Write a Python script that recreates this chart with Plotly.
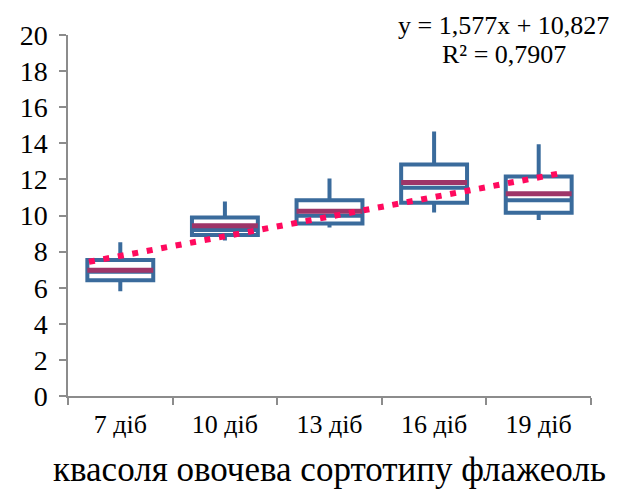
import numpy as np
import plotly.graph_objects as go

categories = ["7 діб", "10 діб", "13 діб", "16 діб", "19 діб"]
q1 = [6.41, 8.92, 9.56, 10.71, 10.15]
median = [6.88, 9.19, 9.98, 11.54, 10.85]
q3 = [7.53, 9.89, 10.84, 12.82, 12.16]
lower = [5.81, 8.61, 9.34, 10.16, 9.75]
upper = [8.52, 10.77, 12.05, 14.65, 13.95]
mean = [6.97, 9.43, 10.24, 11.83, 11.21]
y_ticks = [0, 2, 4, 6, 8, 10, 12, 14, 16, 18, 20]
eq_text = "y = 1,577x + 10,827"
r2_text = "R² = 0,7907"
title_text = "квасоля овочева сортотипу флажеоль"

pos = np.arange(1, len(categories) + 1)
box_w = 0.63

BLUE = "#3A6B9C"
MEAN_C = "#9E3568"
DOT_C = "#FF0A5E"
FONT = "Liberation Serif"

fig = go.Figure()

fig.add_trace(go.Box(
    x=pos, q1=q1, median=median, q3=q3, lowerfence=lower, upperfence=upper,
    width=box_w, whiskerwidth=0, boxpoints=False,
    line=dict(color=BLUE, width=4), fillcolor="white", showlegend=False,
))

# mean lines
mx, my = [], []
for p, m in zip(pos, mean):
    mx += [p - box_w / 2, p + box_w / 2, None]
    my += [m, m, None]
fig.add_trace(go.Scatter(x=mx, y=my, mode="lines",
                         line=dict(color=MEAN_C, width=5), showlegend=False))

# linear trend of means
k, b = np.polyfit(pos, mean, 1)
tx = np.array([0.7, 5.23])
fig.add_trace(go.Scatter(x=tx, y=k * tx + b, mode="lines",
                         line=dict(color=DOT_C, width=6, dash="6px,8.7px"),
                         showlegend=False))

fig.update_layout(
    width=620, height=495,
    margin=dict(l=59, r=37, t=24, b=107),
    paper_bgcolor="white", plot_bgcolor="white",
    font=dict(family=FONT, color="black"),
    showlegend=False,
)
fig.update_xaxes(
    range=[0.5, 5.5], tickmode="array", tickvals=pos, ticktext=categories,
    ticks="", showgrid=False, zeroline=False,
    showline=True, linecolor="#8C8C8C", linewidth=1.5,
    tickfont=dict(family=FONT, size=26, color="black"),
    ticklabelstandoff=4,
    minor=dict(tickmode="array", tickvals=list(np.arange(0.5, 6.0, 1.0)),
               ticks="outside", ticklen=7, tickcolor="#8C8C8C", tickwidth=1.5,
               showgrid=False),
)
fig.update_yaxes(
    range=[0, 20], tickmode="array", tickvals=y_ticks,
    ticks="outside", ticklen=7, tickcolor="#8C8C8C", tickwidth=1.5,
    showgrid=False, zeroline=False,
    showline=True, linecolor="#8C8C8C", linewidth=1.5,
    tickfont=dict(family=FONT, size=28, color="black"),
    ticklabelstandoff=6,
)

fig.add_annotation(text=eq_text, xref="paper", yref="paper", x=0.833, y=1 + 10 / 364,
                   showarrow=False, font=dict(family=FONT, size=26, color="black"),
                   xanchor="center", yanchor="middle")
fig.add_annotation(text=r2_text, xref="paper", yref="paper", x=0.833, y=1 - 20 / 364,
                   showarrow=False, font=dict(family=FONT, size=26, color="black"),
                   xanchor="center", yanchor="middle")
fig.add_annotation(text=title_text, xref="paper", yref="paper", x=0.5, y=-(470 - 396) / 364,
                   showarrow=False, font=dict(family=FONT, size=35, color="black"),
                   xanchor="center", yanchor="middle")

fig.write_html("out.html")
